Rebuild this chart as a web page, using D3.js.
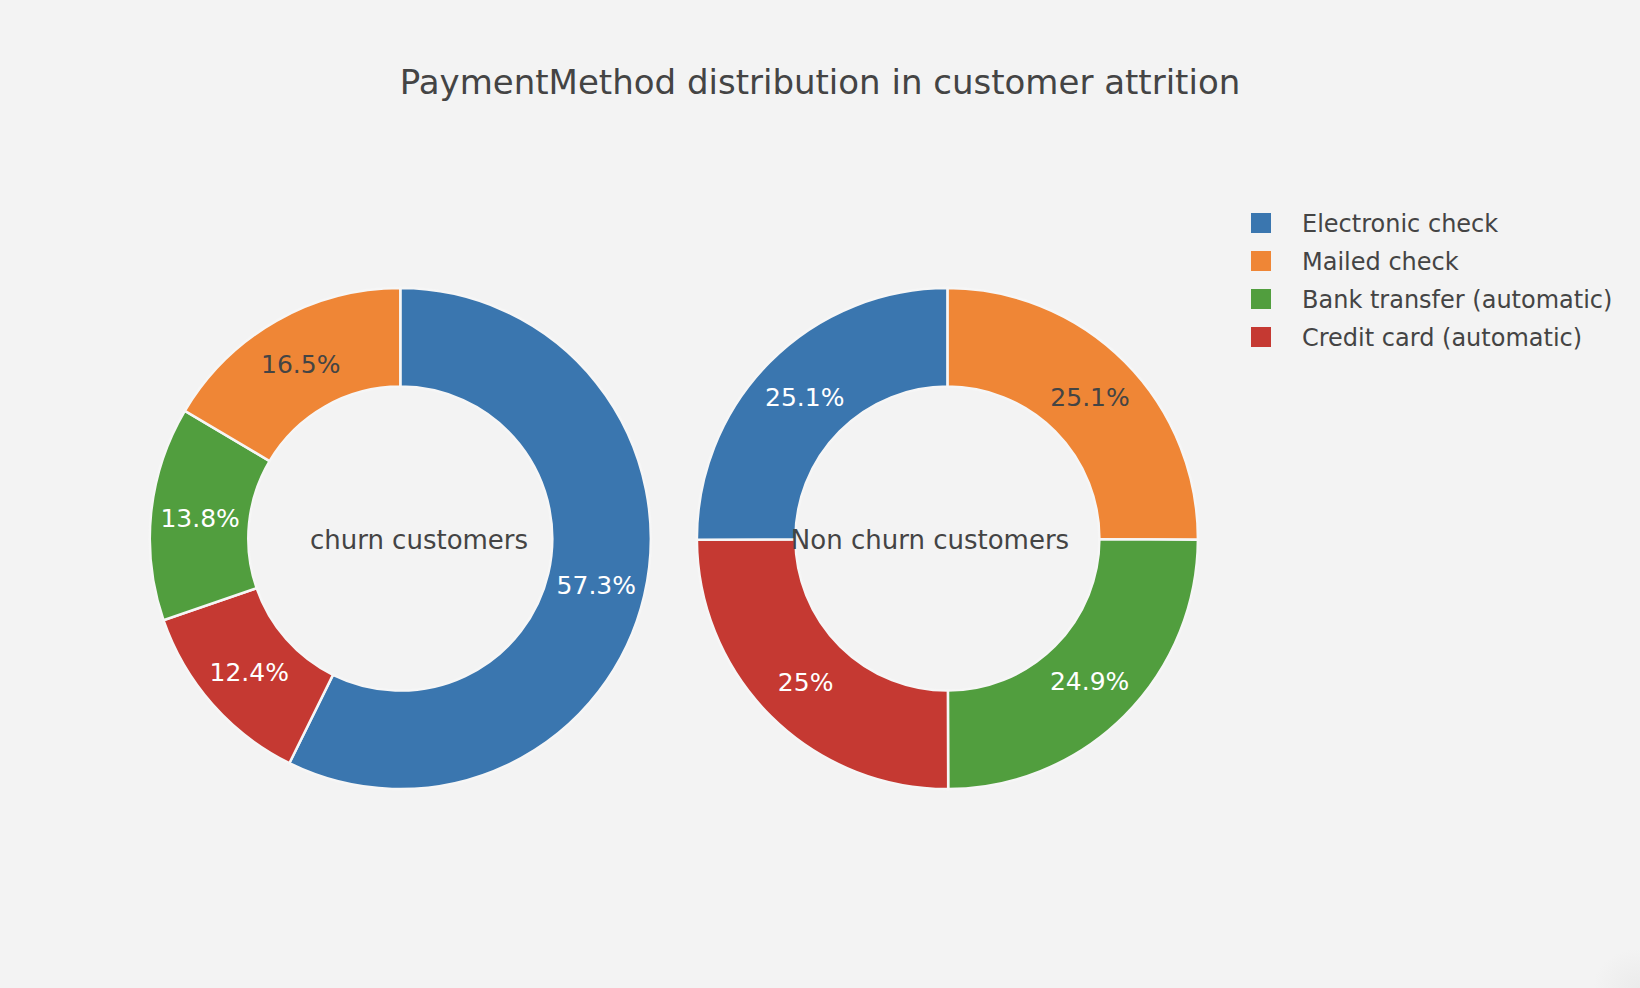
<!DOCTYPE html>
<html>
<head>
<meta charset="utf-8">
<script src="https://cdn.jsdelivr.net/npm/d3@7"></script>
<style>
  html, body { margin: 0; padding: 0; background: #f3f3f3; }
  svg { display: block; font-family: "DejaVu Sans", Verdana, sans-serif; }
</style>
</head>
<body>
<svg id="chart" width="1640" height="988"></svg>
<script>
// ---- data ----
const categories = ["Electronic check", "Mailed check", "Bank transfer (automatic)", "Credit card (automatic)"];
const colors = ["#3a76af", "#ef8636", "#519e3e", "#c53932"];
const churnValues = [1071, 308, 258, 232];          // churn customers
const nonChurnValues = [25.1, 25.1, 24.9, 25.0];    // non churn customers (shares)
// clockwise drawing order of slices starting at 12 o'clock (as in the reference)
const churnOrder = [0, 3, 2, 1];
const nonChurnOrder = [1, 2, 3, 0];
const donutNames = ["churn customers", "Non churn customers"];
const titleText = "PaymentMethod distribution in customer attrition";

// ---- layout ----
const W = 1640, H = 988;
const svg = d3.select("#chart");

const defs = svg.append("defs");
const grad = defs.append("radialGradient").attr("id", "corner")
  .attr("cx", "100%").attr("cy", "100%").attr("r", "18%");
grad.append("stop").attr("offset", "0%").attr("stop-color", "#ebebeb");
grad.append("stop").attr("offset", "100%").attr("stop-color", "#f3f3f3");
svg.append("rect").attr("width", W).attr("height", H).attr("fill", "#f3f3f3");
svg.append("rect").attr("x", W - 260).attr("y", H - 220).attr("width", 260).attr("height", 220)
  .attr("fill", "url(#corner)");

svg.append("text")
  .attr("x", 820).attr("y", 94)
  .attr("text-anchor", "middle")
  .attr("fill", "#444")
  .attr("font-size", 34)
  .text(titleText);

const outerR = 250.5, innerR = 152;
const color = d3.scaleOrdinal().domain(categories).range(colors);
const arc = d3.arc().innerRadius(innerR).outerRadius(outerR);
const pie = d3.pie().sort(null).value(d => d.value);

const donuts = [
  { cx: 400.3, cy: 538.6, values: churnValues, order: churnOrder, name: donutNames[0], labelX: 419 },
  { cx: 947.4, cy: 538.6, values: nonChurnValues, order: nonChurnOrder, name: donutNames[1], labelX: 930 }
];

function labelColor(c) {
  const rgb = d3.rgb(c);
  const lum = 0.299 * rgb.r + 0.587 * rgb.g + 0.114 * rgb.b;
  return lum > 140 ? "#444" : "#fff";
}

donuts.forEach(dn => {
  const total = d3.sum(dn.values);
  const data = dn.order.map(i => ({ cat: categories[i], value: dn.values[i] }));
  const g = svg.append("g").attr("transform", `translate(${dn.cx},${dn.cy})`);
  const arcs = pie(data);
  g.selectAll("path").data(arcs).join("path")
    .attr("d", arc)
    .attr("fill", d => color(d.data.cat))
    .attr("stroke", "#f6f6f6")
    .attr("stroke-width", 2.5);
  g.selectAll("text.pct").data(arcs).join("text")
    .attr("class", "pct")
    .attr("transform", d => `translate(${arc.centroid(d)})`)
    .attr("dy", "0.37em")
    .attr("text-anchor", "middle")
    .attr("font-size", 25)
    .attr("fill", d => labelColor(color(d.data.cat)))
    .text(d => {
      const p = Math.round(d.data.value / total * 1000) / 10;
      return p + "%";
    });
  svg.append("text")
    .attr("x", dn.labelX).attr("y", dn.cy + 10)
    .attr("text-anchor", "middle")
    .attr("font-size", 26)
    .attr("fill", "#444")
    .text(dn.name);
});

// legend
const legend = svg.append("g").attr("transform", "translate(1251,213)");
const rows = legend.selectAll("g").data(categories).join("g")
  .attr("transform", (d, i) => `translate(0,${i * 38})`);
rows.append("rect").attr("width", 20).attr("height", 20).attr("fill", d => color(d));
rows.append("text").attr("x", 51).attr("y", 18.8)
  .attr("font-size", 24).attr("fill", "#444").text(d => d);
</script>
</body>
</html>
